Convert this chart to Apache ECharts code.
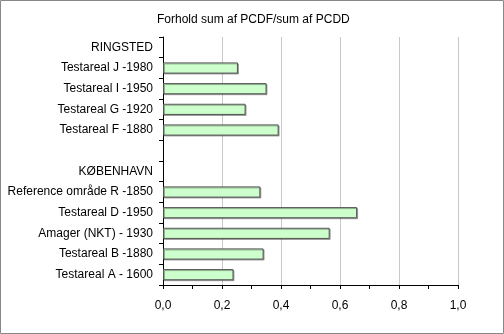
<!DOCTYPE html>
<html><head><meta charset="utf-8">
<script src="https://cdn.jsdelivr.net/npm/echarts@6/dist/echarts.min.js"></script>
<style>html,body{margin:0;padding:0;background:#fff}#c{width:504px;height:334px}</style>
</head><body><div id="c"></div>
<script>
const categories = ["RINGSTED","Testareal J -1980","Testareal I -1950","Testareal G -1920","Testareal F -1880","","KØBENHAVN","Reference område R -1850","Testareal D -1950","Amager (NKT) - 1930","Testareal B -1880","Testareal A - 1600"];
const ratioValues = ['-',0.254,0.351,0.280,0.392,'-','-',0.330,0.658,0.565,0.341,0.239];
const xTicks = [0,0.2,0.4,0.6,0.8,1.0];
const titleText = "Forhold sum af PCDF/sum af PCDD";

const chart = echarts.init(document.getElementById('c'), null, {renderer:'canvas'});
chart.setOption({
  animation:false,
  backgroundColor:'#fff',
  title:{text:titleText,left:157,top:14,padding:0,textStyle:{fontFamily:'Liberation Sans',fontSize:12,fontWeight:'normal',color:'#000'}},
  graphic:[{type:'rect',shape:{x:0.5,y:0.5,width:503,height:333},style:{fill:'none',stroke:'#888',lineWidth:1},silent:true}],
  grid:{left:163,right:46,top:37,bottom:49,containLabel:false},
  xAxis:{type:'value',min:xTicks[0],max:xTicks[xTicks.length-1],interval:0.2,
    axisLine:{show:true,lineStyle:{color:'#000',width:1}},
    axisTick:{show:true,length:4,lineStyle:{color:'#000'}},
    minorTick:{show:true,splitNumber:2,length:4,lineStyle:{color:'#000'}},
    splitLine:{show:true,lineStyle:{color:'#c8c8c8',width:1}},
    axisLabel:{margin:15,fontFamily:'Liberation Sans',fontSize:12,color:'#000',formatter:v=>v.toFixed(1).replace('.',',')}},
  yAxis:{type:'category',inverse:true,data:categories,
    axisLine:{show:true,lineStyle:{color:'#000',width:1}},
    axisTick:{show:true,length:4,lineStyle:{color:'#000'}},
    axisLabel:{margin:10,fontFamily:'Liberation Sans',fontSize:12,color:'#000'}},
  series:[{type:'bar',data:ratioValues,barWidth:'54%',
    itemStyle:{color:'#ccffcc',borderColor:'#555',borderWidth:1,shadowColor:'rgba(0,0,0,0.3)',shadowOffsetX:1,shadowOffsetY:1}}]
});
</script></body></html>
